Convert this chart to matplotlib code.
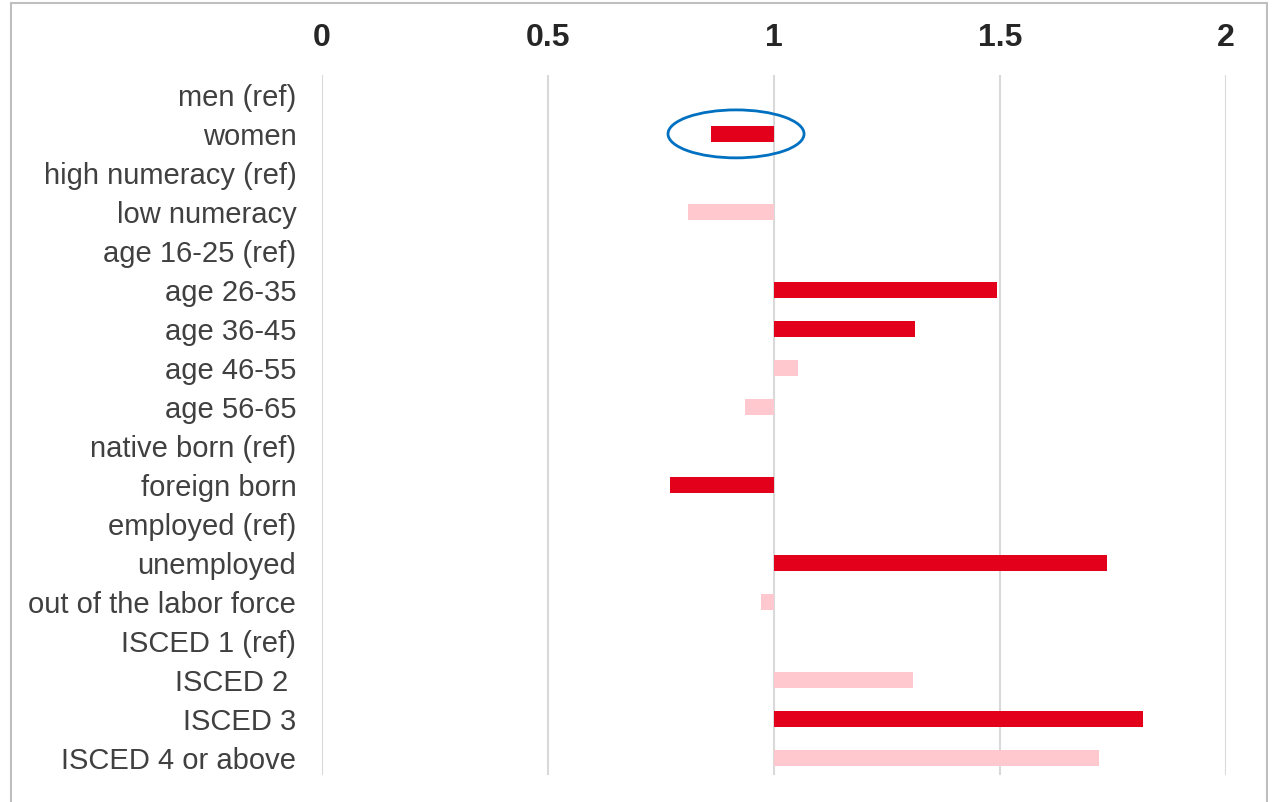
import matplotlib
matplotlib.use("Agg")
import matplotlib.pyplot as plt
from matplotlib.patches import Ellipse, Rectangle
import numpy as np

categories = ["men (ref)", "women", "high numeracy (ref)", "low numeracy",
              "age 16-25 (ref)", "age 26-35", "age 36-45", "age 46-55", "age 56-65",
              "native born (ref)", "foreign born", "employed (ref)", "unemployed",
              "out of the labor force", "ISCED 1 (ref)", "ISCED 2 ", "ISCED 3",
              "ISCED 4 or above"]
odds_ratios = [1.0, 0.861, 1.0, 0.81,
               1.0, 1.493, 1.312, 1.053, 0.936,
               1.0, 0.770, 1.0, 1.737,
               0.971, 1.0, 1.308, 1.816,
               1.719]
significant = [False, True, False, False,
               False, True, True, False, False,
               False, True, False, True,
               False, False, False, True,
               False]
x_ticks = [0, 0.5, 1, 1.5, 2]
x_tick_labels = ["0", "0.5", "1", "1.5", "2"]

DARK = "#E2001A"
LIGHT = "#FFC7CE"

plt.rcParams['font.family'] = ['Liberation Sans', 'DejaVu Sans']

fig = plt.figure(figsize=(12.74, 8.02), dpi=100)
ax = fig.add_axes([322/1274, 1-775/802, (1226-322)/1274, (775-75)/802])

y = np.arange(len(categories))
widths = [v - 1.0 for v in odds_ratios]
colors = [DARK if s else LIGHT for s in significant]
ax.barh(y, widths, left=1.0, height=0.4, color=colors, zorder=3)

ax.set_xlim(0, 2)
ax.set_ylim(17.44, -0.51)
ax.set_yticks(y)
ax.set_yticklabels(categories, fontsize=21, color="#404040")
ax.set_xticks(x_ticks)
ax.set_xticklabels(x_tick_labels, fontsize=23, fontweight="bold", color="#262626")
ax.xaxis.tick_top()
ax.tick_params(axis="x", length=0, pad=15.5)
ax.tick_params(axis="y", length=0, pad=18.5)
ax.grid(axis="x", color="#D9D9D9", linewidth=1.5, zorder=0)
ax.set_axisbelow(True)
for s in ax.spines.values():
    s.set_visible(False)

# highlight ellipse around "women"
ell = Ellipse(xy=(0.916, 1.0), width=0.301, height=1.23, fill=False,
              edgecolor="#0070C0", linewidth=2.0, zorder=4, clip_on=False)
ax.add_patch(ell)

# figure border
border = Rectangle((11/1274, -0.05), (1267-11)/1274, 1.05 - 3/802, transform=fig.transFigure,
                   fill=False, edgecolor="#BFBFBF", linewidth=1.5, clip_on=False)
fig.patches.append(border)

fig.savefig("out.png", dpi=100, facecolor="white")
